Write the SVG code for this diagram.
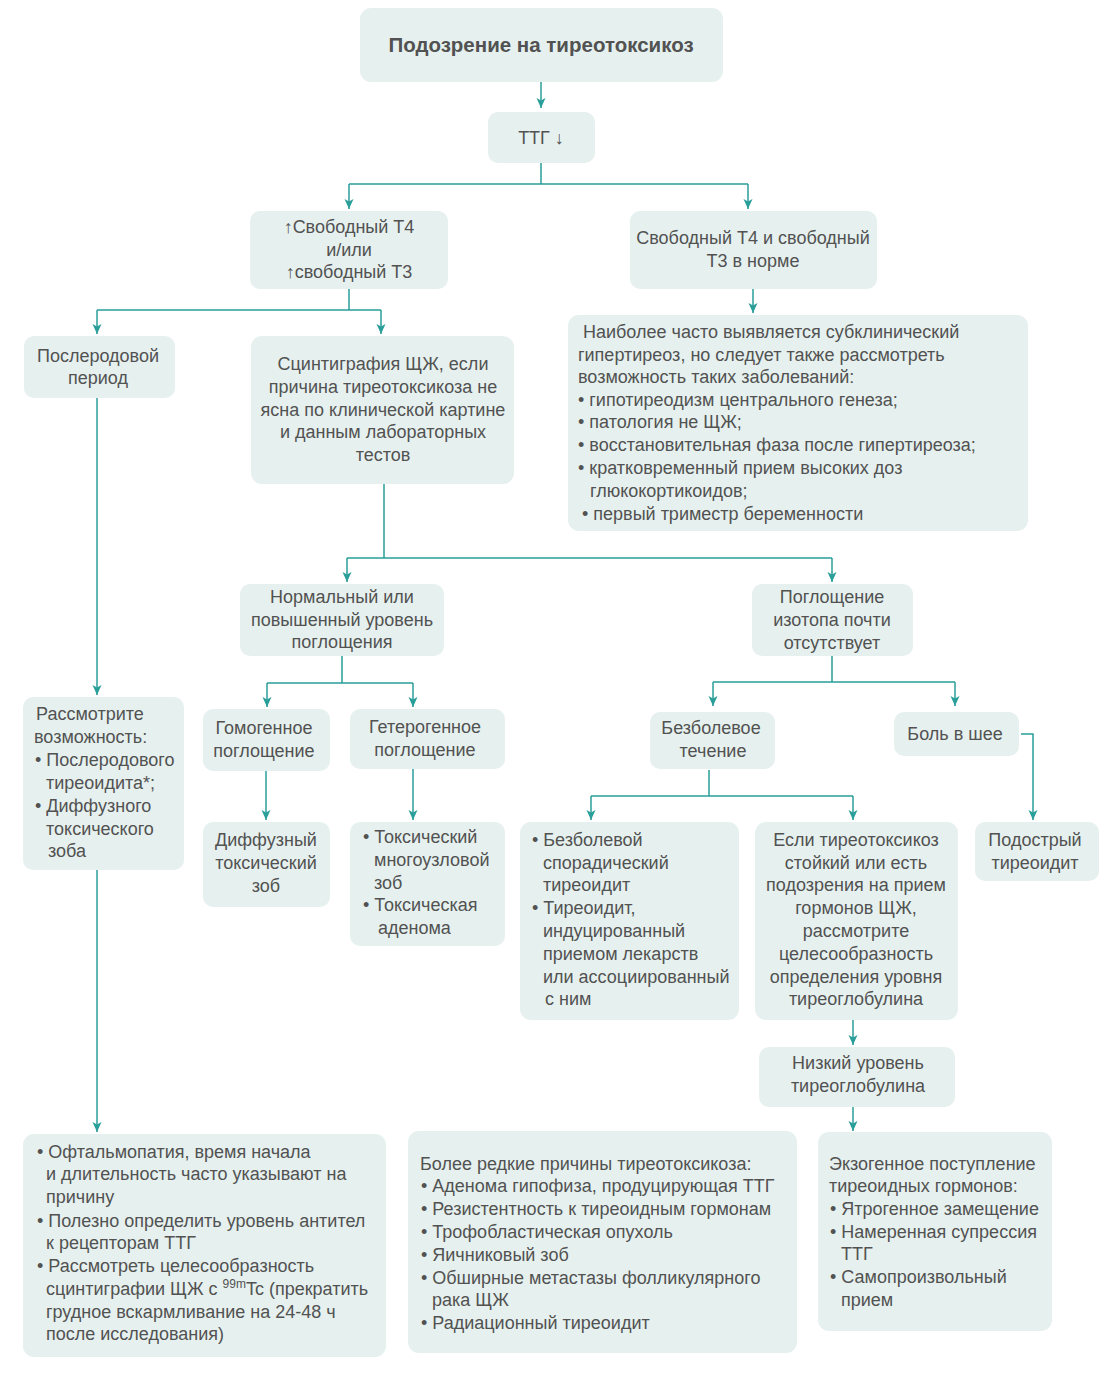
<svg xmlns="http://www.w3.org/2000/svg" width="1104" height="1373" viewBox="0 0 1104 1373">
<style>
.b{fill:#e6f1ef}
.t{font-family:"Liberation Sans",Arial,sans-serif;font-size:18px;fill:#525252}
.c{text-anchor:middle}
.h{font-size:20.5px;font-weight:bold}
.k{stroke:#2a9e99;stroke-width:1.5;fill:none}
.a{marker-end:url(#ar)}
</style>
<defs>
<marker id="ar" viewBox="0 0 10 10" refX="10" refY="5" markerWidth="10" markerHeight="10" markerUnits="userSpaceOnUse" orient="auto">
<path d="M0,0.5 L10,5 L0,9.5 L2.5,5 z" fill="#2a9e99"/>
</marker>
</defs>
<rect width="1104" height="1373" fill="#ffffff"/>

<g id="connectors">
<path class="k a" d="M541,82 V108"/>
<path class="k" d="M541,163 V184 M349,184 H748"/>
<path class="k a" d="M349,184 V209"/>
<path class="k a" d="M748,184 V209"/>
<path class="k a" d="M753,289 V313"/>
<path class="k" d="M349,289 V310 M97,310 H381"/>
<path class="k a" d="M97,310 V334"/>
<path class="k a" d="M381,310 V334"/>
<path class="k" d="M384,484 V558 M347,558 H832"/>
<path class="k a" d="M347,558 V582"/>
<path class="k a" d="M832,558 V582"/>
<path class="k" d="M342,656 V683 M267,683 H413"/>
<path class="k a" d="M267,683 V707"/>
<path class="k a" d="M413,683 V707"/>
<path class="k a" d="M266,771 V820"/>
<path class="k a" d="M413,769 V820"/>
<path class="k" d="M832,656 V682 M713,682 H955"/>
<path class="k a" d="M713,682 V706"/>
<path class="k a" d="M955,682 V706"/>
<path class="k a" d="M1021,734 H1033 V820"/>
<path class="k" d="M709,770 V796 M591,796 H853"/>
<path class="k a" d="M591,796 V820"/>
<path class="k a" d="M853,796 V820"/>
<path class="k a" d="M853,1020 V1045"/>
<path class="k a" d="M853,1107 V1131"/>
<path class="k a" d="M97,398 V695"/>
<path class="k a" d="M97,870 V1132"/>
</g>

<g id="n1"><rect class="b" x="360" y="8" width="363" height="74" rx="11"/>
<text class="t c h" x="541" y="52">Подозрение на тиреотоксикоз</text></g>

<g id="n2"><rect class="b" x="488" y="112" width="107" height="51" rx="10"/>
<text class="t c" x="541" y="144">ТТГ ↓</text></g>

<g id="n3"><rect class="b" x="250" y="211" width="198" height="78" rx="10"/>
<text class="t c"><tspan x="349" y="233">↑Свободный Т4</tspan><tspan x="349" y="256">и/или</tspan><tspan x="349" y="278">↑свободный Т3</tspan></text></g>

<g id="n4"><rect class="b" x="630" y="211" width="247" height="78" rx="10"/>
<text class="t c"><tspan x="753" y="244">Свободный Т4 и свободный</tspan><tspan x="753" y="267">Т3 в норме</tspan></text></g>

<g id="n5"><rect class="b" x="568" y="315" width="460" height="216" rx="11"/>
<text class="t"><tspan x="583" y="338">Наиболее часто выявляется субклинический</tspan><tspan x="578" y="361">гипертиреоз, но следует также рассмотреть</tspan><tspan x="578" y="383">возможность таких заболеваний:</tspan><tspan x="578" y="406">• гипотиреодизм центрального генеза;</tspan><tspan x="578" y="428">• патология не ЩЖ;</tspan><tspan x="578" y="451">• восстановительная фаза после гипертиреоза;</tspan><tspan x="578" y="474">• кратковременный прием высоких доз</tspan><tspan x="590" y="497">глюкокортикоидов;</tspan><tspan x="582" y="520">• первый триместр беременности</tspan></text></g>

<g id="n6"><rect class="b" x="24" y="336" width="151" height="62" rx="10"/>
<text class="t c"><tspan x="98" y="362">Послеродовой</tspan><tspan x="98" y="384">период</tspan></text></g>

<g id="n7"><rect class="b" x="251" y="336" width="263" height="148" rx="11"/>
<text class="t c"><tspan x="383" y="370">Сцинтиграфия ЩЖ, если</tspan><tspan x="383" y="393">причина тиреотоксикоза не</tspan><tspan x="383" y="416">ясна по клинической картине</tspan><tspan x="383" y="438">и данным лабораторных</tspan><tspan x="383" y="461">тестов</tspan></text></g>

<g id="n8"><rect class="b" x="240" y="584" width="204" height="72" rx="10"/>
<text class="t c"><tspan x="342" y="603">Нормальный или</tspan><tspan x="342" y="626">повышенный уровень</tspan><tspan x="342" y="648">поглощения</tspan></text></g>

<g id="n9"><rect class="b" x="752" y="584" width="161" height="72" rx="10"/>
<text class="t c"><tspan x="832" y="603">Поглощение</tspan><tspan x="832" y="626">изотопа почти</tspan><tspan x="832" y="649">отсутствует</tspan></text></g>

<g id="n10"><rect class="b" x="203" y="709" width="127" height="62" rx="10"/>
<text class="t c"><tspan x="264" y="734">Гомогенное</tspan><tspan x="264" y="757">поглощение</tspan></text></g>

<g id="n11"><rect class="b" x="350" y="709" width="155" height="60" rx="10"/>
<text class="t c"><tspan x="425" y="733">Гетерогенное</tspan><tspan x="425" y="756">поглощение</tspan></text></g>

<g id="n12"><rect class="b" x="203" y="822" width="127" height="85" rx="10"/>
<text class="t c"><tspan x="266" y="846">Диффузный</tspan><tspan x="266" y="869">токсический</tspan><tspan x="266" y="892">зоб</tspan></text></g>

<g id="n13"><rect class="b" x="350" y="822" width="155" height="124" rx="10"/>
<text class="t"><tspan x="363" y="843">• Токсический</tspan><tspan x="374" y="866">многоузловой</tspan><tspan x="374" y="889">зоб</tspan><tspan x="363" y="911">• Токсическая</tspan><tspan x="378" y="934">аденома</tspan></text></g>

<g id="n14"><rect class="b" x="650" y="712" width="125" height="57" rx="10"/>
<text class="t c"><tspan x="711" y="734">Безболевое</tspan><tspan x="713" y="757">течение</tspan></text></g>

<g id="n15"><rect class="b" x="894" y="712" width="125" height="44" rx="10"/>
<text class="t c" x="955" y="740">Боль в шее</text></g>

<g id="n16"><rect class="b" x="975" y="822" width="124" height="59" rx="10"/>
<text class="t c"><tspan x="1035" y="846">Подострый</tspan><tspan x="1035" y="869">тиреоидит</tspan></text></g>

<g id="n17"><rect class="b" x="520" y="822" width="219" height="198" rx="11"/>
<text class="t"><tspan x="532" y="846">• Безболевой</tspan><tspan x="543" y="869">спорадический</tspan><tspan x="543" y="891">тиреоидит</tspan><tspan x="532" y="914">• Тиреоидит,</tspan><tspan x="543" y="937">индуцированный</tspan><tspan x="543" y="960">приемом лекарств</tspan><tspan x="543" y="983">или ассоциированный</tspan><tspan x="545" y="1005">с ним</tspan></text></g>

<g id="n18"><rect class="b" x="755" y="822" width="203" height="198" rx="11"/>
<text class="t c"><tspan x="856" y="846">Если тиреотоксикоз</tspan><tspan x="856" y="869">стойкий или есть</tspan><tspan x="856" y="891">подозрения на прием</tspan><tspan x="856" y="914">гормонов ЩЖ,</tspan><tspan x="856" y="937">рассмотрите</tspan><tspan x="856" y="960">целесообразность</tspan><tspan x="856" y="983">определения уровня</tspan><tspan x="856" y="1005">тиреоглобулина</tspan></text></g>

<g id="n19"><rect class="b" x="759" y="1047" width="196" height="60" rx="10"/>
<text class="t c"><tspan x="858" y="1069">Низкий уровень</tspan><tspan x="858" y="1092">тиреоглобулина</tspan></text></g>

<g id="n20"><rect class="b" x="23" y="697" width="161" height="173" rx="10"/>
<text class="t"><tspan x="36" y="720">Рассмотрите</tspan><tspan x="34" y="743">возможность:</tspan><tspan x="35" y="766">• Послеродового</tspan><tspan x="46" y="789">тиреоидита*;</tspan><tspan x="35" y="812">• Диффузного</tspan><tspan x="46" y="835">токсического</tspan><tspan x="48" y="857">зоба</tspan></text></g>

<g id="n21"><rect class="b" x="23" y="1134" width="363" height="223" rx="11"/>
<text class="t"><tspan x="37" y="1158">• Офтальмопатия, время начала</tspan><tspan x="46" y="1180">и длительность часто указывают на</tspan><tspan x="46" y="1203">причину</tspan><tspan x="37" y="1227">• Полезно определить уровень антител</tspan><tspan x="46" y="1249">к рецепторам ТТГ</tspan><tspan x="37" y="1272">• Рассмотреть целесообразность</tspan><tspan x="46" y="1295">сцинтиграфии ЩЖ с <tspan font-size="12" dy="-7">99m</tspan><tspan dy="7">Tc (прекратить</tspan></tspan><tspan x="46" y="1318">грудное вскармливание на 24-48 ч</tspan><tspan x="46" y="1340">после исследования)</tspan></text></g>

<g id="n22"><rect class="b" x="408" y="1131" width="389" height="222" rx="11"/>
<text class="t"><tspan x="420" y="1170">Более редкие причины тиреотоксикоза:</tspan><tspan x="421" y="1192">• Аденома гипофиза, продуцирующая ТТГ</tspan><tspan x="421" y="1215">• Резистентность к тиреоидным гормонам</tspan><tspan x="421" y="1238">• Трофобластическая опухоль</tspan><tspan x="421" y="1261">• Яичниковый зоб</tspan><tspan x="421" y="1284">• Обширные метастазы фолликулярного</tspan><tspan x="432" y="1306">рака ЩЖ</tspan><tspan x="421" y="1329">• Радиационный тиреоидит</tspan></text></g>

<g id="n23"><rect class="b" x="818" y="1132" width="234" height="199" rx="11"/>
<text class="t"><tspan x="829" y="1170">Экзогенное поступление</tspan><tspan x="829" y="1192">тиреоидных гормонов:</tspan><tspan x="830" y="1215">• Ятрогенное замещение</tspan><tspan x="830" y="1238">• Намеренная супрессия</tspan><tspan x="841" y="1260">ТТГ</tspan><tspan x="830" y="1283">• Самопроизвольный</tspan><tspan x="841" y="1306">прием</tspan></text></g>
</svg>
